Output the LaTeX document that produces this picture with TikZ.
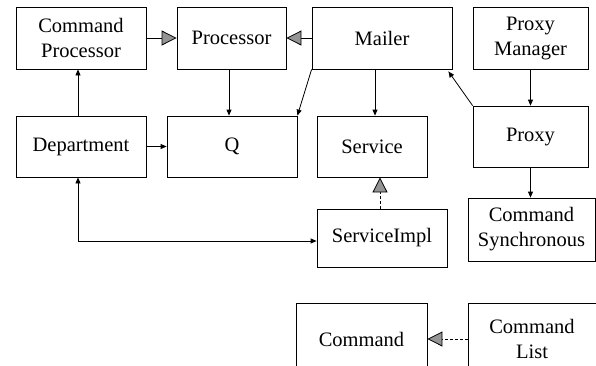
\documentclass[tikz,border=0pt]{standalone}
\usepackage{fontspec}
\setmainfont{Liberation Serif}
\newfontfamily\tnr{Liberation Serif}
\usetikzlibrary{arrows.meta}
\begin{document}
\begin{tikzpicture}[x=1pt,y=-1pt,
  box/.style={draw,line width=0.8pt,rectangle,align=center,inner sep=0pt,
    font=\tnr\fontsize{20.5}{25}\selectfont},
  arr/.style={line width=0.8pt,-{Triangle[length=6pt,width=5pt]}},
  biarr/.style={line width=0.8pt,{Triangle[length=6pt,width=5pt]}-{Triangle[length=6pt,width=5pt]}},
  gen/.style={line width=0.8pt,-{Triangle[length=15pt,width=15pt,fill=black!42]}},
  real/.style={gen,dash pattern=on 3pt off 2pt}]
\useasboundingbox (0,0) rectangle (596,365);
\clip (0,0) rectangle (596,365);
\node[box,minimum width=130pt,minimum height=62pt] (cp) at (81,38) {Command\\Processor};
\node[box,minimum width=109pt,minimum height=62pt] (proc) at (231.5,38) {Processor};
\node[box,minimum width=140pt,minimum height=62pt] (mailer) at (382,38) {Mailer};
\node[box,minimum width=115pt,minimum height=62pt] (pm) at (530.5,38) {Proxy\\Manager};
\node[box,minimum width=130pt,minimum height=61pt] (dept) at (81,146.5) {Department};
\node[box,minimum width=130pt,minimum height=61pt] (q) at (232,146.5) {Q};
\node[box,minimum width=110pt,minimum height=61pt] (service) at (372,146.5) {Service};
\node[box,minimum width=115pt,minimum height=61pt] (proxy) at (530.5,136.5) {Proxy};
\node[box,minimum width=130pt,minimum height=58pt] (simpl) at (382,238) {ServiceImpl};
\node[box,minimum width=127pt,minimum height=63pt] (cs) at (531.5,229.5) {Command\\Synchronous};
\node[box,minimum width=131pt,minimum height=72pt] (cmd) at (361.5,339) {Command};
\node[box,minimum width=128pt,minimum height=72pt] (cl) at (532,339) {Command\\List};
% connectors
\draw[gen] (cp.east) -- (proc.west);
\draw[gen] (mailer.west) -- (proc.east);
\draw[arr] ([xshift=-2.5pt]proc.south) -- ([xshift=-2.5pt]proc.south |- q.north);
\draw[arr] ([xshift=-3pt]dept.north) -- ([xshift=-3pt]dept.north |- cp.south);
\draw[arr] (dept.east) -- (q.west);
\draw[arr] (mailer.south west) -- (q.north east);
\draw[arr] ([xshift=-7pt]mailer.south) -- ([xshift=-7pt]mailer.south |- service.north);
\draw[arr] (proxy.north west) -- ([xshift=-4pt,yshift=-2pt]mailer.south east);
\draw[arr] (pm.south) -- (pm.south |- proxy.north);
\draw[arr] (proxy.south) -- (proxy.south |- cs.north);
\draw[real] ([xshift=-2pt]simpl.north) -- ([xshift=-2pt]simpl.north |- service.south);
\draw[biarr] ([xshift=-3pt]dept.south) |- ([yshift=-3pt]simpl.west);
\draw[real] (cl.west) -- (cmd.east);
\end{tikzpicture}
\end{document}
